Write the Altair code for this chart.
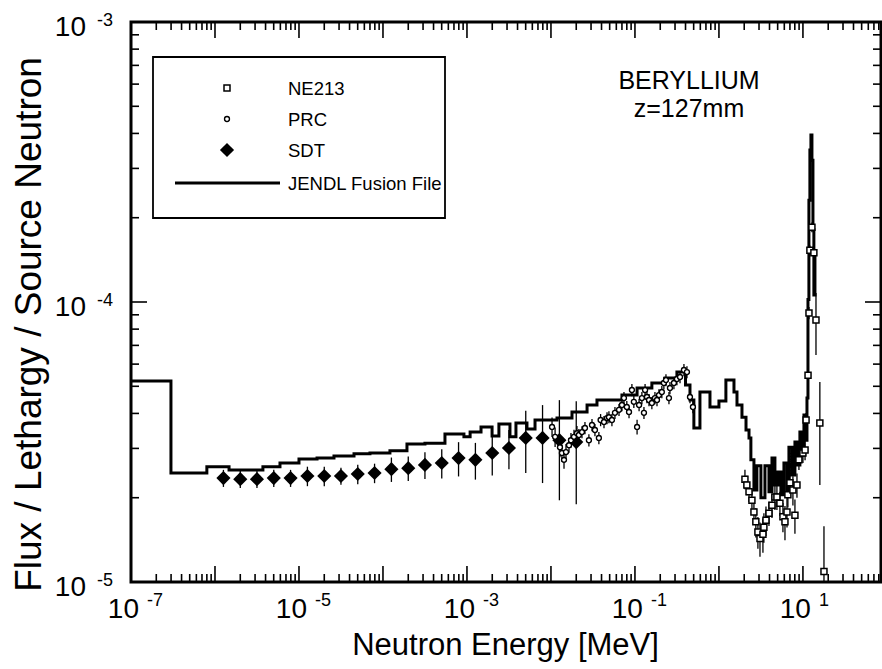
import altair as alt
import pandas as pd

FONT = "Liberation Sans"

# ---------------- data ----------------
# JENDL Fusion File histogram: left bin edge [MeV] and flux per lethargy
jendl_energy = [1e-7, 2.99e-7, 8.0e-7, 1.47e-6, 3.72e-6, 5.94e-6, 1.0e-5, 1.64e-5, 2.61e-5,
                4.52e-5, 7.0e-5, 1.21e-4, 1.93e-4, 3.16e-4, 5.47e-4, 9.2e-4, 1.09e-3, 1.47e-3,
                1.99e-3, 2.40e-3, 3.25e-3, 3.83e-3, 5.18e-3, 6.46e-3, 1.18e-2, 1.78e-2, 2.69e-2,
                3.53e-2, 7.0e-2, 0.106, 0.159, 0.228, 0.316, 0.40, 0.452, 0.503, 0.594, 0.782,
                1.0, 1.21, 1.51, 1.64, 1.88, 2.10, 2.28, 2.40, 2.61, 2.83, 3.16, 3.53, 3.94,
                4.28, 4.64, 5.04, 5.47, 5.94, 6.46, 6.81, 7.40, 8.03, 8.71, 9.20, 9.72, 10.28,
                10.86, 11.17, 11.48, 11.78, 12.1, 12.45, 12.8, 13.16, 13.5, 13.9, 14.3]
jendl_flux = [5.22e-5, 2.45e-5, 2.58e-5, 2.51e-5, 2.58e-5, 2.66e-5, 2.75e-5, 2.77e-5, 2.82e-5,
              2.87e-5, 2.89e-5, 2.94e-5, 3.11e-5, 3.13e-5, 3.38e-5, 3.30e-5, 3.43e-5, 3.58e-5,
              3.32e-5, 3.67e-5, 3.30e-5, 3.70e-5, 3.52e-5, 3.79e-5, 3.85e-5, 4.05e-5, 4.29e-5,
              4.47e-5, 4.65e-5, 4.93e-5, 5.14e-5, 5.35e-5, 5.62e-5, 5.05e-5, 4.47e-5, 3.55e-5,
              4.77e-5, 4.22e-5, 4.43e-5, 5.26e-5, 4.77e-5, 4.29e-5, 3.88e-5, 3.49e-5, 3.27e-5,
              2.73e-5, 2.13e-5, 2.60e-5, 2.00e-5, 2.60e-5, 2.10e-5, 2.77e-5, 2.22e-5, 2.47e-5,
              2.05e-5, 2.66e-5, 2.13e-5, 3.03e-5, 2.41e-5, 3.16e-5, 2.62e-5, 3.43e-5, 2.84e-5,
              3.95e-5, 3.21e-5, 4.54e-5, 1.02e-4, 2.31e-4, 3.49e-4, 3.95e-4, 3.21e-4, 1.81e-4,
              1.06e-4, 1.50e-4, 1.50e-4]

# NE213 measurement
ne213_energy = [2.04, 2.15, 2.28, 2.47, 2.61, 2.75, 2.91, 3.08, 3.34, 3.43, 3.63, 3.94, 4.28,
                4.64, 4.90, 5.32, 5.78, 6.11, 6.46, 6.62, 7.0, 7.6, 8.03, 8.49, 8.96, 10.0,
                10.6, 10.9, 11.5, 11.8, 12.1, 12.8, 13.5, 14.3, 15.9, 17.8]
ne213_flux = [2.33e-5, 2.22e-5, 2.10e-5, 1.96e-5, 1.78e-5, 1.64e-5, 1.51e-5, 1.43e-5, 1.48e-5,
              1.57e-5, 1.66e-5, 1.76e-5, 1.88e-5, 2.01e-5, 2.01e-5, 1.91e-5, 1.71e-5, 1.64e-5,
              1.78e-5, 2.05e-5, 2.26e-5, 2.13e-5, 1.73e-5, 2.22e-5, 2.73e-5, 2.89e-5, 2.96e-5,
              3.79e-5, 5.48e-5, 9.14e-5, 1.53e-4, 1.85e-4, 1.50e-4, 8.62e-5, 3.70e-5, 1.09e-5]
ne213_err = [0.08, 0.08, 0.08, 0.10, 0.10, 0.12, 0.13, 0.14, 0.14, 0.12, 0.12, 0.10, 0.10,
             0.10, 0.10, 0.10, 0.12, 0.14, 0.12, 0.10, 0.10, 0.12, 0.14, 0.10, 0.08, 0.08,
             0.08, 0.06, 0.05, 0.05, 0.04, 0.04, 0.04, 0.25, 0.40, 0.45]

# PRC measurement
prc_energy = [1.03e-2, 1.12e-2, 1.28e-2, 1.35e-2, 1.43e-2, 1.51e-2, 1.64e-2, 1.73e-2, 1.88e-2,
              2.04e-2, 2.15e-2, 2.34e-2, 2.54e-2, 2.83e-2, 3.08e-2, 3.34e-2, 3.72e-2, 3.90e-2,
              4.28e-2, 4.65e-2, 4.90e-2, 5.32e-2, 5.78e-2, 6.46e-2, 7.0e-2, 7.4e-2, 8.0e-2,
              8.5e-2, 9.2e-2, 9.7e-2, 0.106, 0.112, 0.121, 0.128, 0.132, 0.139, 0.147, 0.159,
              0.173, 0.183, 0.193, 0.209, 0.221, 0.234, 0.254, 0.261, 0.291, 0.316, 0.344,
              0.383, 0.416, 0.452, 0.49]
prc_flux = [3.58e-5, 3.30e-5, 3.03e-5, 2.89e-5, 2.73e-5, 2.91e-5, 3.08e-5, 3.21e-5, 3.30e-5,
            3.40e-5, 3.35e-5, 3.43e-5, 3.55e-5, 3.21e-5, 3.64e-5, 3.49e-5, 3.27e-5, 3.79e-5,
            3.73e-5, 3.85e-5, 3.88e-5, 3.79e-5, 4.02e-5, 4.12e-5, 4.29e-5, 4.54e-5, 4.22e-5,
            4.05e-5, 4.85e-5, 4.40e-5, 3.58e-5, 4.29e-5, 4.54e-5, 4.02e-5, 4.85e-5, 4.58e-5,
            4.47e-5, 4.36e-5, 4.54e-5, 4.47e-5, 4.65e-5, 4.77e-5, 5.14e-5, 5.26e-5, 4.54e-5,
            4.93e-5, 5.14e-5, 5.31e-5, 5.40e-5, 5.72e-5, 5.62e-5, 4.58e-5, 4.22e-5]
prc_err = [0.08, 0.08, 0.08, 0.07, 0.07, 0.07, 0.06, 0.06, 0.06, 0.06, 0.05, 0.05, 0.05,
           0.05, 0.05, 0.05, 0.05, 0.05, 0.05, 0.05, 0.05, 0.05, 0.05, 0.05, 0.05, 0.05,
           0.05, 0.05, 0.05, 0.05, 0.06, 0.05, 0.05, 0.05, 0.05, 0.05, 0.05, 0.05, 0.05,
           0.05, 0.05, 0.05, 0.05, 0.05, 0.05, 0.05, 0.05, 0.05, 0.05, 0.05, 0.05, 0.05, 0.05]

# SDT measurement
sdt_energy = [1.26e-6, 2.0e-6, 3.16e-6, 5.01e-6, 7.94e-6, 1.26e-5, 2.0e-5, 3.16e-5, 5.01e-5,
              7.94e-5, 1.26e-4, 2.0e-4, 3.16e-4, 5.01e-4, 7.94e-4, 1.26e-3, 2.0e-3, 3.16e-3,
              5.01e-3, 7.94e-3, 1.26e-2, 2.0e-2]
sdt_flux = [2.35e-5, 2.33e-5, 2.33e-5, 2.35e-5, 2.35e-5, 2.39e-5, 2.39e-5, 2.39e-5, 2.43e-5,
            2.45e-5, 2.53e-5, 2.55e-5, 2.62e-5, 2.66e-5, 2.77e-5, 2.73e-5, 2.89e-5, 3.01e-5,
            3.27e-5, 3.27e-5, 3.21e-5, 3.16e-5]
sdt_err = [0.07, 0.07, 0.07, 0.07, 0.07, 0.08, 0.08, 0.07, 0.08, 0.08, 0.10, 0.10, 0.11,
           0.12, 0.14, 0.15, 0.17, 0.16, 0.25, 0.31, 0.39, 0.40]

series_names = ["NE213", "PRC", "SDT", "JENDL Fusion File"]

x_major = [1e-7, 1e-6, 1e-5, 1e-4, 1e-3, 1e-2, 1e-1, 1e0, 1e1]
x_label_values = [1e-7, 1e-5, 1e-3, 1e-1, 1e1]
x_label_exps = ["-7", "-5", "-3", "-1", "1"]
y_major = [1e-5, 1e-4, 1e-3]
y_label_exps = ["-5", "-4", "-3"]
X_MAX = 85

# ---------------- tables ----------------
jendl = pd.DataFrame({"E": jendl_energy, "F": jendl_flux})


def meas(e, f, err):
    d = pd.DataFrame({"E": e, "F": f, "err": err})
    d["lo"] = d["F"] * (1 - d["err"])
    d["hi"] = d["F"] * (1 + d["err"])
    return d


sdt = meas(sdt_energy, sdt_flux, sdt_err)
prc = meas(prc_energy, prc_flux, prc_err)
ne213 = meas(ne213_energy, ne213_flux, ne213_err)

x_minor = [m * d for d in x_major for m in range(2, 10) if m * d <= X_MAX]
y_minor = [m * d for d in y_major[:-1] for m in range(2, 10)]

W, H = 750, 560

X_SCALE = alt.Scale(type="log", domain=[1e-7, X_MAX], nice=False)
Y_SCALE = alt.Scale(type="log", domain=[1e-5, 1e-3], nice=False)
X_AXIS = alt.Axis(title="Neutron Energy [MeV]", labels=False, ticks=False, domain=False,
                  grid=False, titleFont=FONT, titleFontSize=31, titleFontWeight="normal",
                  titleColor="black", titleX=374, titleY=72, titleBaseline="alphabetic",
                  titleAlign="center")
Y_AXIS = alt.Axis(title="Flux / Lethargy / Source Neutron", labels=False, ticks=False,
                  domain=False, grid=False, titleFont=FONT, titleFontSize=37,
                  titleFontWeight="normal", titleColor="black", titleX=-91, titleY=302,
                  titleBaseline="alphabetic", titleAlign="center", titleAngle=270)


def X(field="E"):
    return alt.X(f"{field}:Q", scale=X_SCALE, axis=X_AXIS)


def Y(field="F"):
    return alt.Y(f"{field}:Q", scale=Y_SCALE, axis=Y_AXIS)


line = alt.Chart(jendl).mark_line(interpolate="step-after", color="black", strokeWidth=3,
                                  strokeJoin="miter", clip=True).encode(x=X(), y=Y())


def errbars(df):
    return alt.Chart(df).mark_rule(color="black", strokeWidth=1.3, clip=True).encode(
        x=X(), y=Y("lo"), y2="hi:Q")


sdt_pts = alt.Chart(sdt).mark_point(shape="diamond", filled=True, color="black", size=200,
                                    opacity=1, clip=True).encode(x=X(), y=Y())
prc_pts = alt.Chart(prc).mark_point(shape="circle", fill="white", stroke="black",
                                    strokeWidth=1.4, size=24, opacity=1, clip=True).encode(
    x=X(), y=Y())
ne_pts = alt.Chart(ne213).mark_point(shape="square", fill="white", stroke="black",
                                     strokeWidth=1.5, size=36, opacity=1, clip=True).encode(
    x=X(), y=Y())


def xticks(vals, y0, y1):
    return alt.Chart(pd.DataFrame({"E": vals})).mark_rule(color="black", strokeWidth=1.6).encode(
        x=X(), y=alt.value(y0), y2=alt.value(y1))


def yticks(vals, x0, x1):
    return alt.Chart(pd.DataFrame({"F": vals})).mark_rule(color="black", strokeWidth=1.6).encode(
        y=Y(), x=alt.value(x0), x2=alt.value(x1))


ticks = [
    xticks(x_major, H, H - 16), xticks(x_minor, H, H - 8),
    xticks(x_major, 0, 16), xticks(x_minor, 0, 8),
    yticks(y_major, 0, 16), yticks(y_minor, 0, 8),
    yticks(y_major, W, W - 16), yticks(y_minor, W, W - 8),
]

xl = pd.DataFrame({"E": x_label_values, "base": ["10"] * len(x_label_values), "exp": x_label_exps})
yl = pd.DataFrame({"F": y_major, "base": ["10"] * len(y_major), "exp": y_label_exps})

x_base = alt.Chart(xl).mark_text(font=FONT, fontSize=28, align="right", baseline="alphabetic",
                                 dx=8, color="black").encode(x=X(), y=alt.value(H + 36),
                                                             text="base:N")
x_exp = alt.Chart(xl).mark_text(font=FONT, fontSize=18, align="left", baseline="alphabetic",
                                dx=16, color="black").encode(x=X(), y=alt.value(H + 24),
                                                             text="exp:N")
y_base = alt.Chart(yl).mark_text(font=FONT, fontSize=28, align="right", baseline="alphabetic",
                                 dy=14, color="black").encode(y=Y(), x=alt.value(-45),
                                                              text="base:N")
y_exp = alt.Chart(yl).mark_text(font=FONT, fontSize=18, align="left", baseline="alphabetic",
                                dy=4, color="black").encode(y=Y(), x=alt.value(-34),
                                                            text="exp:N")


def label(txt, x, y, size, align="center"):
    return alt.Chart(pd.DataFrame({"t": [txt]})).mark_text(
        font=FONT, fontSize=size, align=align, baseline="alphabetic", color="black").encode(
        x=alt.value(x), y=alt.value(y), text="t:N")


ann1 = label("BERYLLIUM", 558, 67, 25)
ann2 = label("z=127mm", 558, 95, 25)

# ---------------- legend box ----------------
one = pd.DataFrame({"k": [0]})
LEG_Y = [66, 97, 128, 161]
leg_box = alt.Chart(one).mark_rect(fill="white", stroke="black", strokeWidth=1.8).encode(
    x=alt.value(22), x2=alt.value(314), y=alt.value(35), y2=alt.value(196))
leg_ne = alt.Chart(one).mark_point(shape="square", fill="white", stroke="black",
                                   strokeWidth=1.5, size=36, opacity=1).encode(
    x=alt.value(96), y=alt.value(LEG_Y[0]))
leg_prc = alt.Chart(one).mark_point(shape="circle", fill="white", stroke="black",
                                    strokeWidth=1.4, size=24, opacity=1).encode(
    x=alt.value(96), y=alt.value(LEG_Y[1]))
leg_sdt = alt.Chart(one).mark_point(shape="diamond", filled=True, color="black", size=200,
                                    opacity=1).encode(x=alt.value(96), y=alt.value(LEG_Y[2]))
leg_line = alt.Chart(one).mark_rule(color="black", strokeWidth=3).encode(
    x=alt.value(44), x2=alt.value(149), y=alt.value(LEG_Y[3]))
leg_text = [label(n, 157, yy + 7, 18.5, align="left") for n, yy in zip(series_names, LEG_Y)]

chart = alt.layer(
    line, errbars(sdt), errbars(prc), errbars(ne213), sdt_pts, prc_pts, ne_pts,
    *ticks, x_base, x_exp, y_base, y_exp, ann1, ann2,
    leg_box, leg_ne, leg_prc, leg_sdt, leg_line, *leg_text,
).properties(
    width=W, height=H,
    padding={"left": 131, "top": 22, "right": 1, "bottom": 87},
    autosize=alt.AutoSizeParams(type="none"),
    background="white",
).configure_view(stroke="black", strokeWidth=3)

chart.save("out.html", embed_options={"renderer": "svg", "actions": False})
